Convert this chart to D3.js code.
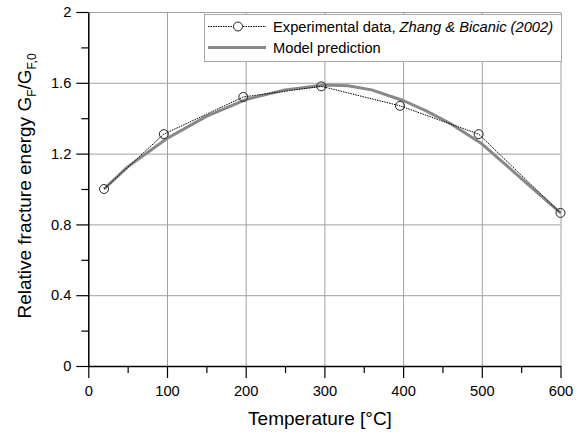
<!DOCTYPE html>
<html><head><meta charset="utf-8">
<script src="https://cdn.jsdelivr.net/npm/d3@7"></script>
<style>
body{margin:0;background:#fff;}
svg{display:block;font-family:"Liberation Sans",Arial,sans-serif;}
</style></head><body>
<svg id="chart" width="584" height="436"></svg>
<script>
const expTemp = [20, 96, 197, 296, 396, 496, 600];
const expValue = [1.0, 1.31, 1.52, 1.58, 1.47, 1.31, 0.865];
const modelTemp = [20, 50, 100, 150, 200, 250, 300, 330, 360, 400, 430, 460, 500, 550, 600];
const modelValue = [1.0, 1.125, 1.285, 1.41, 1.505, 1.56, 1.588, 1.583, 1.56, 1.5, 1.44, 1.37, 1.255, 1.06, 0.865];
const xTicks = [0, 100, 200, 300, 400, 500, 600];
const xMinor = [50, 150, 250, 350, 450, 550];
const yTicks = [0, 0.4, 0.8, 1.2, 1.6, 2];
const yMinor = [0.2, 0.6, 1.0, 1.4, 1.8];
const legendLabels = ["Experimental data, ", "Zhang & Bicanic (2002)", "Model prediction"];

const svg = d3.select("#chart");
const L = 88.3, R = 560.5, T = 12, B = 366;
const FS = 14.7;
const x = d3.scaleLinear().domain([0, 600]).range([L, R]);
const y = d3.scaleLinear().domain([0, 2]).range([B, T]);

// grid
svg.append("g").attr("transform", `translate(0,${B})`)
  .call(d3.axisBottom(x).tickValues(xTicks.slice(1)).tickSize(-(B - T)).tickFormat(""))
  .call(g => g.select(".domain").remove())
  .call(g => g.selectAll("line").attr("stroke", "#a0a0a0").attr("stroke-width", 1));
svg.append("g").attr("transform", `translate(${L},0)`)
  .call(d3.axisLeft(y).tickValues(yTicks.slice(1)).tickSize(-(R - L)).tickFormat(""))
  .call(g => g.select(".domain").remove())
  .call(g => g.selectAll("line").attr("stroke", "#a0a0a0").attr("stroke-width", 1));

// minor ticks
svg.append("g").attr("transform", `translate(0,${B})`)
  .call(d3.axisBottom(x).tickValues(xMinor).tickSize(7).tickFormat(""))
  .call(g => g.select(".domain").remove())
  .call(g => g.selectAll("line").attr("stroke", "#000").attr("stroke-width", 1.2));
svg.append("g").attr("transform", `translate(${L},0)`)
  .call(d3.axisLeft(y).tickValues(yMinor).tickSize(7).tickFormat(""))
  .call(g => g.select(".domain").remove())
  .call(g => g.selectAll("line").attr("stroke", "#000").attr("stroke-width", 1.2));

// major axes
const xa = svg.append("g").attr("transform", `translate(0,${B})`)
  .call(d3.axisBottom(x).tickValues(xTicks).tickSize(12).tickSizeOuter(0).tickPadding(8).tickFormat(d3.format("d")));
xa.select(".domain").attr("stroke", "#000").attr("stroke-width", 1.5);
xa.selectAll("line").attr("stroke", "#000").attr("stroke-width", 1.2);
xa.selectAll("text").attr("font-size", FS).attr("font-family", "Liberation Sans, Arial, sans-serif").attr("fill", "#000");
const ya = svg.append("g").attr("transform", `translate(${L},0)`)
  .call(d3.axisLeft(y).tickValues(yTicks).tickSize(12).tickSizeOuter(0).tickPadding(5).tickFormat(d => d3.format("")(d)));
ya.select(".domain").attr("stroke", "#000").attr("stroke-width", 1.5);
ya.selectAll("line").attr("stroke", "#000").attr("stroke-width", 1.2);
ya.selectAll("text").attr("font-size", FS).attr("font-family", "Liberation Sans, Arial, sans-serif").attr("fill", "#000");

// lines
const modelData = modelTemp.map((t, i) => [t, modelValue[i]]);
const expData = expTemp.map((t, i) => [t, expValue[i]]);
const line = d3.line().x(d => x(d[0])).y(d => y(d[1]));
svg.append("path").datum(modelData).attr("d", line)
  .attr("fill", "none").attr("stroke", "#888").attr("stroke-width", 3).attr("stroke-linejoin", "round");
svg.append("path").datum(expData).attr("d", line)
  .attr("fill", "none").attr("stroke", "#000").attr("stroke-width", 1).attr("stroke-dasharray", "1.5,1");
svg.append("g").selectAll("circle").data(expData).join("circle")
  .attr("cx", d => x(d[0])).attr("cy", d => y(d[1])).attr("r", 4.5)
  .attr("fill", "none").attr("stroke", "#222").attr("stroke-width", 1);

// legend
const lg = svg.append("g");
lg.append("rect").attr("x", 204.5).attr("y", 14.5).attr("width", 357).attr("height", 47)
  .attr("fill", "#fff").attr("stroke", "#a8a8a8").attr("stroke-width", 1);
lg.append("line").attr("x1", 208).attr("x2", 266).attr("y1", 26.5).attr("y2", 26.5)
  .attr("stroke", "#000").attr("stroke-width", 1).attr("stroke-dasharray", "1.5,1");
lg.append("circle").attr("cx", 238).attr("cy", 26.5).attr("r", 4.5).attr("fill", "#fff").attr("stroke", "#222");
lg.append("line").attr("x1", 208).attr("x2", 266).attr("y1", 47.5).attr("y2", 47.5)
  .attr("stroke", "#888").attr("stroke-width", 3);
const t1 = lg.append("text").attr("x", 273).attr("y", 31.5).attr("font-size", FS).attr("fill", "#000");
t1.append("tspan").text(legendLabels[0]);
t1.append("tspan").attr("font-style", "italic").text(legendLabels[1]);
lg.append("text").attr("x", 273).attr("y", 52.5).attr("font-size", FS).attr("fill", "#000").text(legendLabels[2]);

// axis titles
svg.append("text").attr("x", 320).attr("y", 425).attr("text-anchor", "middle")
  .attr("font-size", 19).attr("fill", "#000").text("Temperature [°C]");
const yt = svg.append("text").attr("transform", `translate(31,${(T + B) / 2 - 3}) rotate(-90)`)
  .attr("text-anchor", "middle").attr("font-size", 19).attr("fill", "#000");
yt.append("tspan").text("Relative fracture energy G");
yt.append("tspan").attr("font-size", 12).attr("dy", 5).text("F");
yt.append("tspan").attr("dy", -5).text("/G");
yt.append("tspan").attr("font-size", 12).attr("dy", 5).text("F,0");
</script>
</body></html>
